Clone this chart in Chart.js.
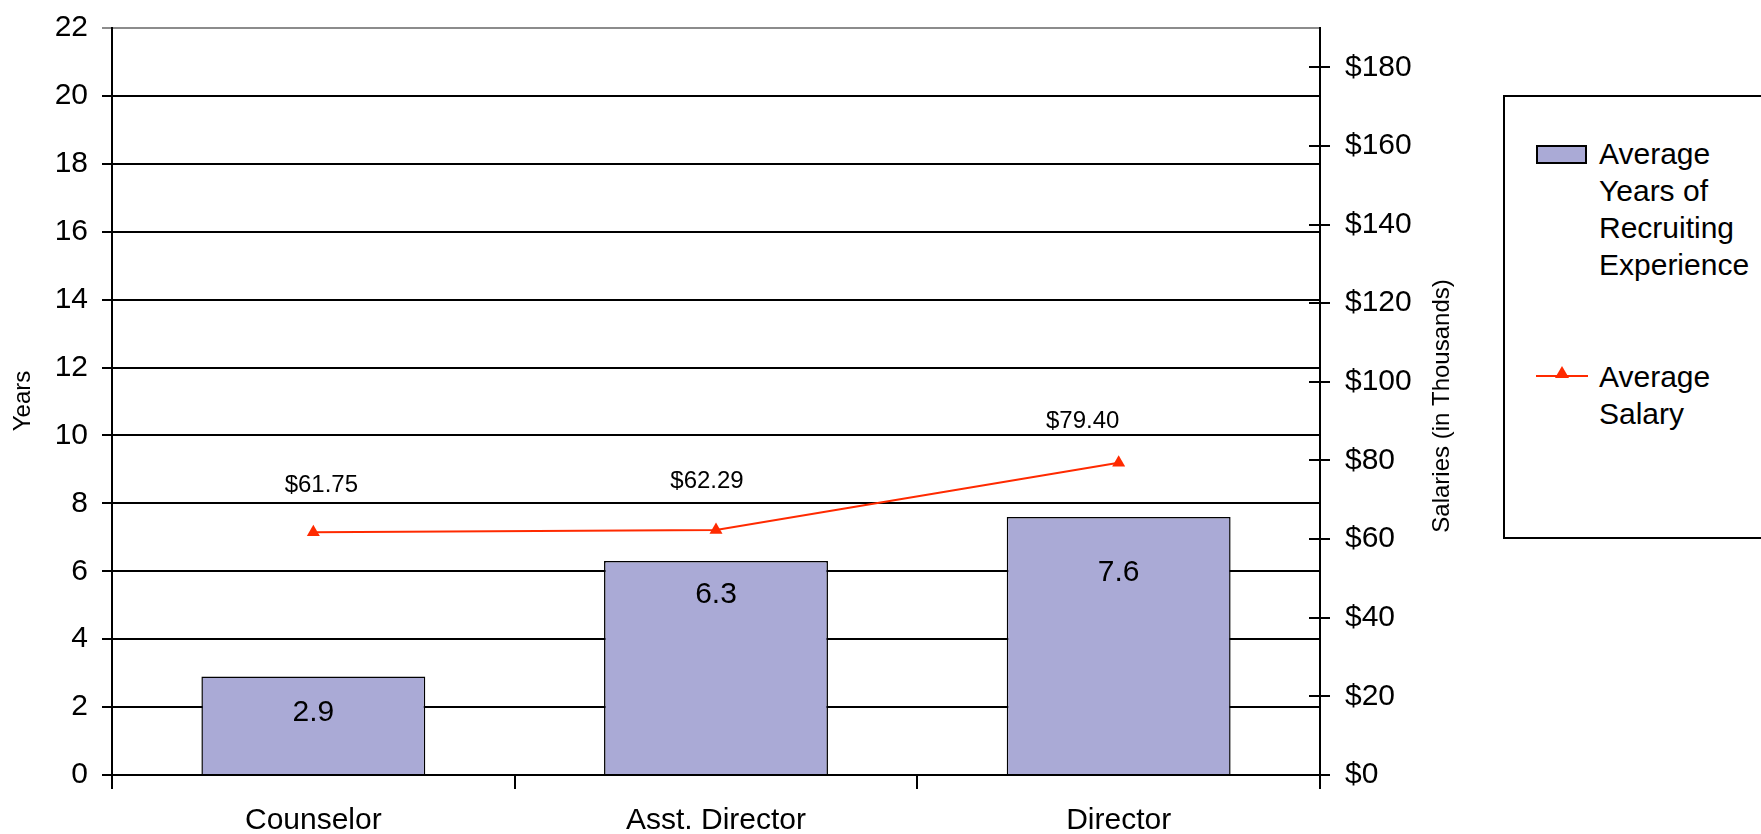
<!DOCTYPE html>
<html>
<head>
<meta charset="utf-8">
<script src="https://cdn.jsdelivr.net/npm/chart.js@4.4.1/dist/chart.umd.min.js"></script>
<style>
  html, body { margin: 0; padding: 0; background: #fff; }
  #wrap { position: relative; width: 1761px; height: 834px; overflow: hidden; }
  #legend {
    position: absolute; left: 1503px; top: 95px; width: 320px; height: 444px;
    border: 2px solid #000; box-sizing: border-box; background: #fff;
    font-family: "Liberation Sans", Arial, sans-serif; font-size: 30px; line-height: 37px; color: #000;
  }
  .item { position: absolute; left: 94px; }
  .swatch-bar { position: absolute; left: 31px; width: 51px; height: 19px; box-sizing: border-box;
    background: #aaaad6; border: 2px solid #000; }
  .swatch-line { position: absolute; left: 31px; width: 52px; height: 2px; background: #ff2a00; }
  .swatch-line span { position: absolute; left: 19px; top: -9px; width: 0; height: 0;
    border-left: 7px solid transparent; border-right: 7px solid transparent; border-bottom: 12px solid #ff2a00; }
</style>
</head>
<body>
<div id="wrap">
  <canvas id="myChart" width="1761" height="834"></canvas>
  <div id="legend">
    <div class="swatch-bar" style="top:48px"></div>
    <div class="item" style="top:38px">Average<br>Years of<br>Recruiting<br>Experience</div>
    <div class="swatch-line" style="top:278px"><span></span></div>
    <div class="item" style="top:261px">Average<br>Salary</div>
  </div>
</div>
<script>
// chart data
const positions = ['Counselor', 'Asst. Director', 'Director'];
const avgYears = [2.9, 6.3, 7.6];
const avgSalary = [61.75, 62.29, 79.40];
const yearsTicks = [0, 2, 4, 6, 8, 10, 12, 14, 16, 18, 20, 22];
const salaryTicks = [0, 20, 40, 60, 80, 100, 120, 140, 160, 180];

const FONT = '"Liberation Sans", Arial, sans-serif';

// labels, axis titles and the crossing ticks of the salary axis
const overlayPlugin = {
    id: 'overlay',
    afterDatasetsDraw(chart, args, opts) {
        const ctx = chart.ctx;
        ctx.save();
        ctx.fillStyle = '#000';
        ctx.textAlign = 'center';
        ctx.textBaseline = 'middle';

        // values inside the bars
        ctx.font = '30px ' + FONT;
        chart.getDatasetMeta(0).data.forEach((bar, i) => {
            ctx.fillText(avgYears[i].toFixed(1), bar.x, bar.y + opts.barLabelDrop[i]);
        });

        // salary values above the points
        ctx.font = '24px ' + FONT;
        chart.getDatasetMeta(1).data.forEach((pt, i) => {
            const shift = opts.salaryLabelShift[i];
            ctx.fillText('$' + avgSalary[i].toFixed(2), pt.x + shift[0], pt.y + shift[1]);
        });
        ctx.restore();
    },
    afterDraw(chart) {
        const ctx = chart.ctx;
        const y1 = chart.scales.y1;
        const area = chart.chartArea;
        ctx.save();
        ctx.strokeStyle = '#000';
        ctx.lineWidth = 2;
        y1.ticks.forEach(t => {
            const y = Math.round(y1.getPixelForValue(t.value));
            ctx.beginPath();
            ctx.moveTo(area.right - 11, y);
            ctx.lineTo(area.right + 10, y);
            ctx.stroke();
        });

        // axis titles, both reading bottom to top
        ctx.fillStyle = '#000';
        ctx.font = '24px ' + FONT;
        ctx.textAlign = 'center';
        ctx.textBaseline = 'middle';
        ctx.translate(23, 401);
        ctx.rotate(-Math.PI / 2);
        ctx.fillText('Years', 0, 0);
        ctx.setTransform(1, 0, 0, 1, 0, 0);
        ctx.translate(1442, 406);
        ctx.rotate(-Math.PI / 2);
        ctx.fillText('Salaries (in Thousands)', 0, 0);
        ctx.restore();
    }
};

// fixed axis sizes, no extra room for the end labels
const fitWidth = w => scale => {
    scale.width = w;
    scale.paddingTop = 0;
    scale.paddingBottom = 0;
};

const ctx = document.getElementById('myChart').getContext('2d');
const myChart = new Chart(ctx, {
    type: 'bar',
    data: {
        labels: positions,
        datasets: [{
            type: 'bar',
            label: 'Average Years of Recruiting Experience',
            data: avgYears,
            yAxisID: 'y',
            backgroundColor: '#aaaad6',
            borderColor: '#000',
            borderWidth: 1.5,
            barPercentage: 0.556,
            categoryPercentage: 1,
            order: 1
        }, {
            type: 'line',
            label: 'Average Salary',
            data: avgSalary,
            yAxisID: 'y1',
            borderColor: '#ff2a00',
            backgroundColor: '#ff2a00',
            borderWidth: 2,
            pointStyle: 'triangle',
            pointRadius: 7.5,
            pointBorderWidth: 0,
            tension: 0,
            order: 0
        }]
    },
    options: {
        responsive: false,
        devicePixelRatio: 1,
        animation: false,
        events: [],
        layout: {
            padding: { top: 28, left: 0, right: 0, bottom: 0 }
        },
        scales: {
            x: {
                offset: true,
                afterFit: scale => { scale.height = 59; },
                grid: {
                    offset: true,
                    drawOnChartArea: false,
                    color: '#000',
                    lineWidth: 2,
                    tickLength: 14
                },
                border: { display: true, color: '#000', width: 2 },
                ticks: {
                    color: '#000',
                    padding: 14,
                    maxRotation: 0,
                    font: { family: FONT, size: 30 }
                }
            },
            y: {
                position: 'left',
                min: 0,
                max: 22,
                afterFit: fitWidth(112),
                afterBuildTicks: scale => { scale.ticks = yearsTicks.map(v => ({ value: v })); },
                grid: {
                    color: ctx => (ctx.tick && ctx.tick.value === 22) ? '#8c8c8c' : '#000',
                    lineWidth: 2,
                    tickLength: 10
                },
                border: { display: true, color: '#000', width: 2 },
                ticks: {
                    color: '#000',
                    padding: 14,
                    font: { family: FONT, size: 30 }
                }
            },
            y1: {
                position: 'right',
                min: 0,
                max: 190,
                afterFit: fitWidth(441),
                afterBuildTicks: scale => { scale.ticks = salaryTicks.map(v => ({ value: v })); },
                grid: { display: false, drawOnChartArea: false },
                border: { display: true, color: '#000', width: 2 },
                ticks: {
                    color: '#000',
                    padding: 17,
                    font: { family: FONT, size: 30 },
                    callback: v => '$' + v
                }
            }
        },
        plugins: {
            legend: { display: false },
            tooltip: { enabled: false },
            overlay: {
                barLabelDrop: [36, 34, 56],
                salaryLabelShift: [[8, -47], [-9, -49], [-36, -41]]
            }
        }
    },
    plugins: [overlayPlugin]
});
</script>
</body>
</html>
